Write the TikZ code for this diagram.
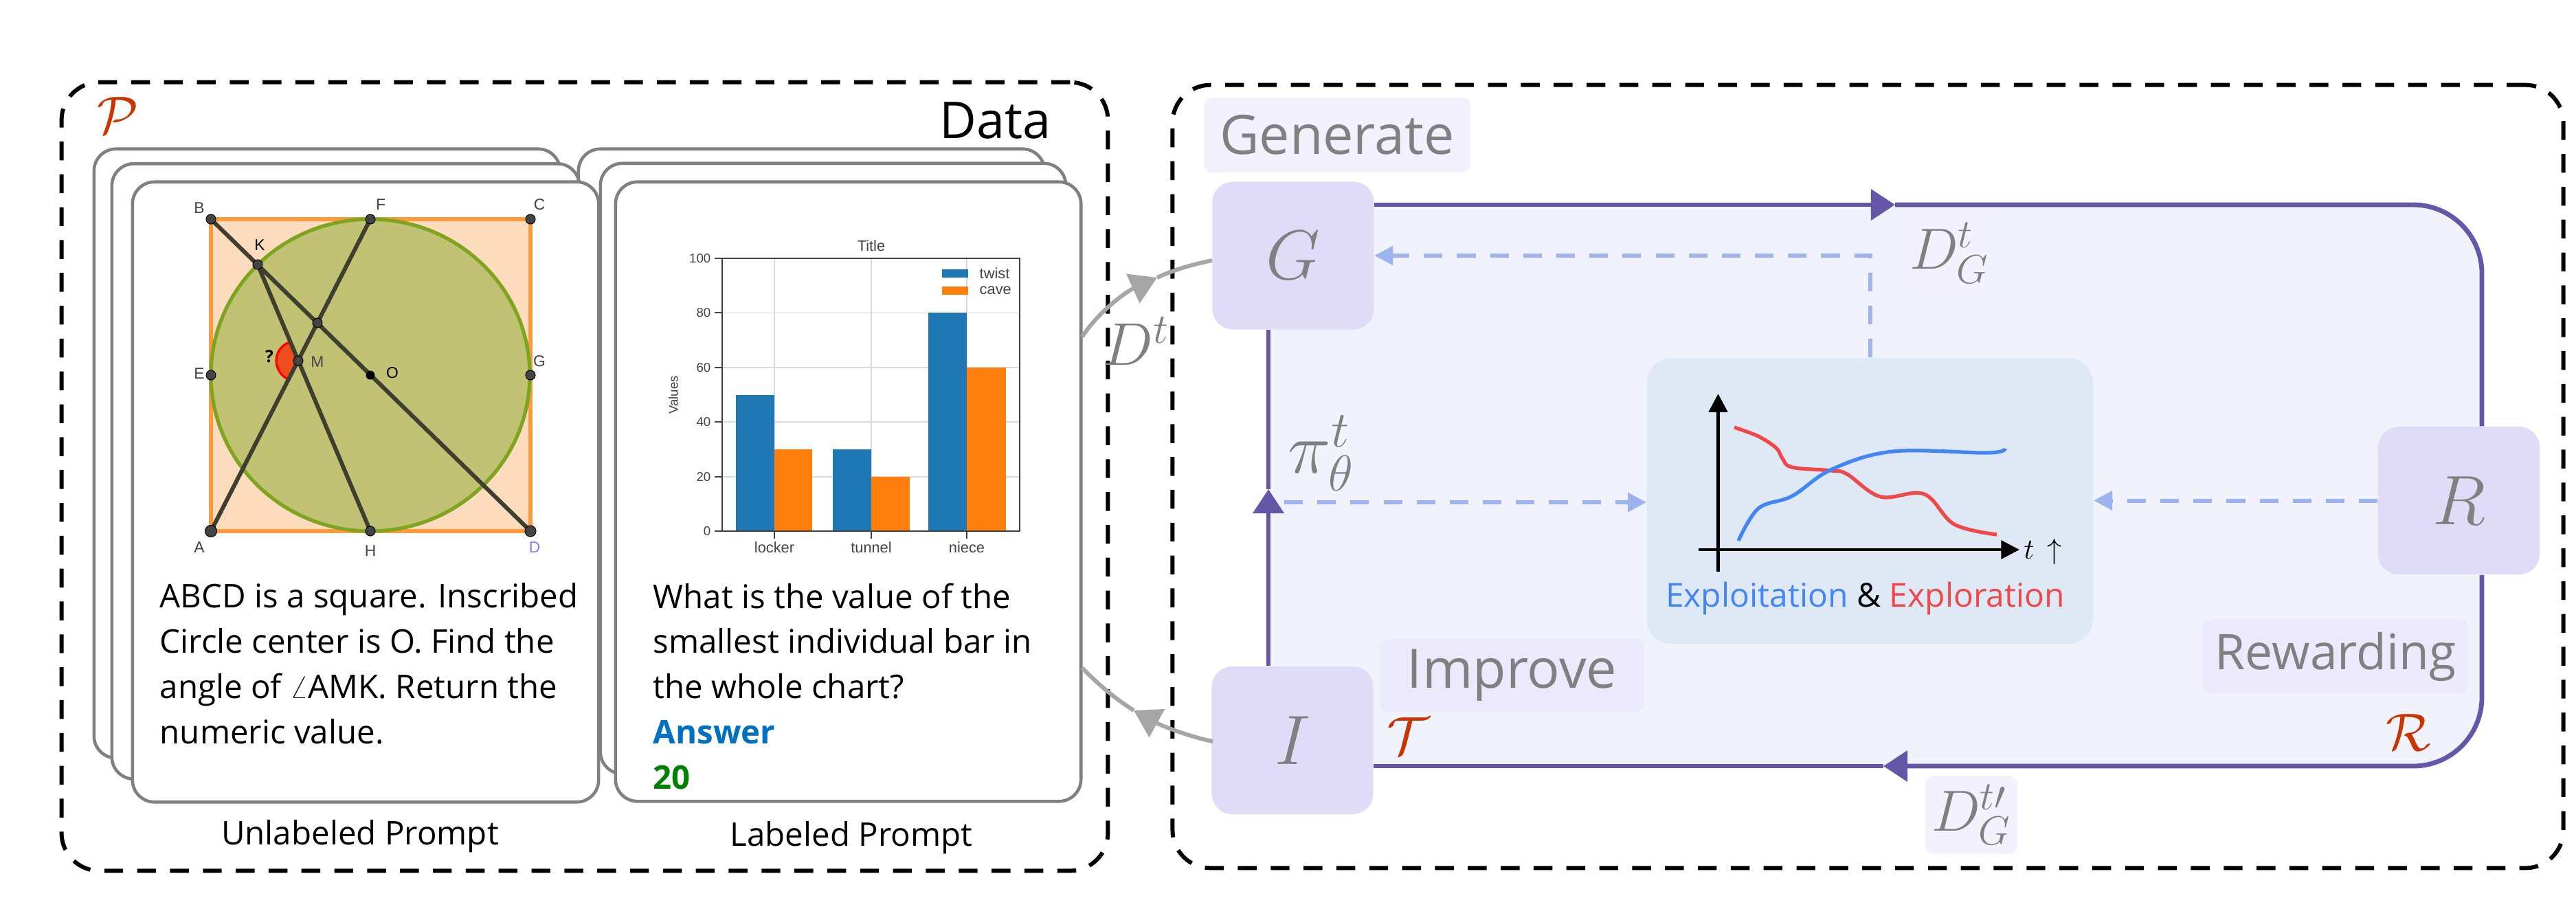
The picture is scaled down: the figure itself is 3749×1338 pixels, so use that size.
\RequirePackage{fix-cm}
\documentclass[tikz,border=0pt]{standalone}
\usepackage{fontspec}
\usepackage{xcolor}
\usetikzlibrary{arrows.meta,backgrounds}
\setmainfont{Open Sans}
\newfontfamily\chartfont{Liberation Sans}

\definecolor{cardline}{HTML}{808080}
\definecolor{labelgray}{HTML}{808080}
\definecolor{arrowgray}{HTML}{A6A6A6}
\definecolor{loopline}{HTML}{6556A8}
\definecolor{loopfill}{HTML}{F0F3FC}
\definecolor{agentfill}{HTML}{E0DCF8}
\definecolor{tagfill}{HTML}{F3F1FD}
\definecolor{tagfilldark}{HTML}{EBE9FB}
\definecolor{centerfill}{HTML}{DEE9F5}
\definecolor{dashblue}{HTML}{9DB2EF}
\definecolor{setred}{HTML}{C93400}
\definecolor{exploitblue}{HTML}{4285F4}
\definecolor{exploreed}{HTML}{F04848}
\definecolor{answerblue}{HTML}{0070C0}
\definecolor{answergreen}{HTML}{008000}
\definecolor{squarefill}{HTML}{FDDCBD}
\definecolor{squareline}{HTML}{FF9A3C}
\definecolor{circlefill}{HTML}{C1C274}
\definecolor{circleline}{HTML}{7FA520}
\definecolor{segline}{HTML}{3F3F2F}
\definecolor{pointfill}{HTML}{444444}
\definecolor{barblue}{HTML}{1F77B4}
\definecolor{barorange}{HTML}{FF7F0E}

\begin{document}
\begin{tikzpicture}[x=0.01cm,y=-0.01cm]
\tikzset{outerbox/.style={draw=black,line width=1.7pt,dash pattern=on 7.8pt off 5.8pt,rounded corners=0.55cm,inner sep=0}}
\tikzset{card/.style={draw=cardline,fill=white,line width=1.3pt,rounded corners=0.32cm,inner sep=0}}
\tikzset{agent/.style={fill=agentfill,rounded corners=0.3cm,inner sep=0,text=labelgray,minimum width=2.35cm,minimum height=2.15cm,font=\fontsize{29}{34}\selectfont}}
\tikzset{tag/.style={fill=tagfill,rounded corners=0.12cm,inner sep=0,text=labelgray,font=\fontsize{22.5}{26}\selectfont}}
\tikzset{mathlabel/.style={text=labelgray,inner sep=0,font=\fontsize{25}{30}\selectfont}}
\tikzset{setlabel/.style={text=setred,inner sep=0,font=\fontsize{22}{26}\selectfont}}
\tikzset{caption/.style={inner sep=0,font=\fontsize{13.5}{16}\selectfont}}
\tikzset{prompt/.style={anchor=north west,align=left,inner sep=0,font=\fontsize{13.5}{18.7}\selectfont}}
\tikzset{geolabel/.style={inner sep=0,text=pointfill,font=\chartfont\fontsize{6.5}{8}\selectfont}}
\tikzset{chartlabel/.style={inner sep=0,text=pointfill,font=\chartfont\fontsize{5.3}{6}\selectfont}}
\tikzset{chartname/.style={chartlabel,font=\chartfont\fontsize{6.2}{7}\selectfont}}
\tikzset{seg/.style={draw=segline,line width=1.7pt}}
\tikzset{dot/.style={fill=pointfill,draw=black,line width=0.3pt}}
\tikzset{loopedge/.style={draw=loopline,line width=1.95pt}}
\tikzset{loophead/.style={-{Triangle[length=10pt,width=12.6pt]}}}
\tikzset{dashedge/.style={draw=dashblue,line width=1.7pt,dash pattern=on 7.7pt off 6pt,-{Triangle[length=7.7pt,width=7.7pt]}}}
\tikzset{grayedge/.style={draw=arrowgray,line width=1.7pt}}
\tikzset{grayhead/.style={-{Triangle[length=11pt,width=13pt]}}}

\useasboundingbox (0,0) rectangle (3749,1338);

% outer boxes
\node[outerbox,minimum width=15.22cm,minimum height=11.47cm] (databox) at (851,693.5) {};
\node[outerbox,minimum width=20.23cm,minimum height=11.39cm] (rightbox) at (2718.5,693.5) {};
\node[anchor=east,inner sep=0,font=\fontsize{21}{26}\selectfont] (datalabel) at (1530,175) {Data};
\node[setlabel] (psetlabel) at (172,168) {$\mathcal{P}$};

% cards
\node[card,minimum width=6.78cm,minimum height=8.86cm] (labback) at (1181,660) {};
\node[card,minimum width=6.77cm,minimum height=8.88cm] (labmid) at (1212.5,682) {};
\node[card,minimum width=6.78cm,minimum height=8.86cm] (unlabback) at (476,660) {};
\node[card,minimum width=6.80cm,minimum height=8.95cm] (unlabmid) at (503,686) {};
\node[card,minimum width=6.78cm,minimum height=9.02cm] (unlabfront) at (532,716) {};
\node[card,minimum width=6.77cm,minimum height=9.01cm] (labfront) at (1234.5,715.5) {};

% geometry figure
\coordinate (ptA) at (307,773);
\coordinate (ptB) at (307,319);
\coordinate (ptC) at (772,319);
\coordinate (ptD) at (772,773);
\coordinate (ptE) at (307,546);
\coordinate (ptF) at (539,319);
\coordinate (ptG) at (772,546);
\coordinate (ptH) at (539,773);
\coordinate (ptK) at (375,385);
\coordinate (ptN) at (462,470);
\coordinate (ptM) at (434,525);
\coordinate (ptO) at (539,546);
\draw[fill=squarefill,draw=squareline,line width=1.5pt] (ptA) rectangle (ptC);
\draw[fill=circlefill,draw=circleline,line width=1.5pt] (ptO) ellipse (232 and 227);
\draw[fill=red!70!orange,fill opacity=0.75,draw=none] (421,498) .. controls (396,508) and (396,540) .. (419,552) -- (ptM) -- cycle;
\draw[red,line width=0.9pt] (421,498) .. controls (396,508) and (396,540) .. (419,552);
\draw[seg] (ptB) -- (ptD);
\draw[seg] (ptA) -- (ptF);
\draw[seg] (ptK) -- (ptH);
\foreach \p in {ptB,ptC,ptE,ptF,ptG,ptH,ptK,ptN,ptM} {
  \fill[dot] (\p) circle (7);
}
\fill[dot] (ptA) circle (8.5);
\fill[dot] (ptD) circle (8);
\fill[black] (ptO) circle (6.5);
\node[geolabel] (labB) at (290,303) {B};
\node[geolabel] (labF) at (554,298) {F};
\node[geolabel] (labC) at (785,298) {C};
\node[geolabel,text=black] (labK) at (378,357) {K};
\node[geolabel] (labE) at (290,544) {E};
\node[geolabel] (labG) at (785,526) {G};
\node[geolabel] (labM) at (462,527) {M};
\node[geolabel,text=black] (labO) at (571,543) {O};
\node[geolabel] (labA) at (290,797) {A};
\node[geolabel] (labH) at (539,802) {H};
\node[geolabel,text=blue!50] (labD) at (778,797) {D};
\node[inner sep=0,font=\bfseries\fontsize{7}{8}\selectfont,text=black] (labQ) at (392,519) {?};

% bar chart
\foreach \x in {1127,1268,1407} {
  \draw[black!15,line width=0.7pt] (\x,376) -- (\x,773);
}
\foreach \val in {20,40,60,80} {
  \draw[black!15,line width=0.5pt] (1051,{773-3.97*\val}) -- (1484,{773-3.97*\val});
}
\fill[barblue] (1070.5,773) rectangle (1127,{773-3.97*50});
\fill[barorange] (1127,773) rectangle (1182,{773-3.97*30});
\fill[barblue] (1212,773) rectangle (1268,{773-3.97*30});
\fill[barorange] (1268,773) rectangle (1323.5,{773-3.97*20});
\fill[barblue] (1351,773) rectangle (1407,{773-3.97*80});
\fill[barorange] (1407,773) rectangle (1464,{773-3.97*60});
\draw[black!75,line width=0.8pt] (1051,376) rectangle (1484,773);
\foreach \val in {0,20,...,100} {
  \draw[black!75,line width=0.6pt] (1040,{773-3.97*\val}) -- (1051,{773-3.97*\val});
  \node[chartlabel,anchor=east] (tick\val) at (1035,{773-3.97*\val}) {\val};
}
\foreach \x in {1127,1268,1407} {
  \draw[black!75,line width=0.6pt] (\x,773) -- (\x,784);
}
\node[chartname] (charttitle) at (1268,358) {Title};
\node[chartlabel,rotate=90] (chartvalues) at (980,575) {Values};
\node[chartname] (lablocker) at (1127,797) {locker};
\node[chartname] (labtunnel) at (1268,797) {tunnel};
\node[chartname] (labniece) at (1407,797) {niece};
\fill[barblue] (1371,392) rectangle (1409,404);
\fill[barorange] (1371,417) rectangle (1409,429);
\node[chartname,anchor=west] (labtwist) at (1425,398) {twist};
\node[chartname,anchor=west] (labcave) at (1425,423) {cave};

% card texts
\node[prompt] (unlabtext) at (232,848) {ABCD is a square. Inscribed\\Circle center is O. Find the\\angle of $\angle$AMK. Return the\\numeric value.};
\node[prompt] (labtext) at (950,848) {What is the value of the\\smallest individual bar in\\the whole chart?\\\textcolor{answerblue}{\textbf{Answer}}\\\textcolor{answergreen}{\textbf{20}}};
\node[caption] (unlabcap) at (524,1217) {Unlabeled Prompt};
\node[caption] (labcap) at (1239,1219) {Labeled Prompt};

% agents
\node[agent] (G) at (1882,372) {$G$};
\node[agent] (I) at (1881,1077.5) {$I$};
\node[agent] (R) at (3578.5,728.5) {$R$};
\node[fill=centerfill,rounded corners=0.36cm,minimum width=6.49cm,minimum height=4.16cm] (center) at (2721.5,729) {};

% loop panel
\coordinate (toptip) at (2758,298);
\coordinate (bottip) at (2741,1115);
\coordinate (lefttip) at (1846,712);
\coordinate (panelne) at (3612,298);
\coordinate (panelse) at (3612,1115);
\begin{scope}[on background layer]
\fill[loopfill,rounded corners=1cm] (1846,298) rectangle (panelse);
\draw[loopedge,loophead] (G.east |- toptip) -- (toptip);
\draw[loopedge,rounded corners=1cm] (toptip) -- (panelne) -- (R.north -| panelne);
\draw[loopedge,loophead,rounded corners=1cm] (R.south -| panelse) -- (panelse) -- (bottip);
\draw[loopedge] (bottip) -- (I.east |- bottip);
\draw[loopedge,loophead] (I.north -| lefttip) -- (lefttip);
\draw[loopedge] (lefttip) -- (G.south -| lefttip);
\end{scope}

% tags
\node[tag,minimum width=3.88cm,minimum height=1.09cm] (gentag) at (1946,196.5) {Generate};
\node[tag,fill=tagfilldark,minimum width=3.85cm,minimum height=1.06cm] (imptag) at (2200.5,983) {Improve};
\node[tag,fill=tagfilldark,minimum width=3.86cm,minimum height=1.07cm,font=\fontsize{20.3}{26}\selectfont] (rewtag) at (3399,955.5) {Rewarding};
\node[tag,minimum width=1.32cm,minimum height=1.15cm,font=\fontsize{24}{28}\selectfont] (dgtag) at (2837,368.5) {$D_G^t$};
\node[tag,minimum width=1.34cm,minimum height=1.14cm,font=\fontsize{24}{28}\selectfont] (dgptag) at (2869,1186) {$D_G^{t\prime}$};
\node[mathlabel] (dtlabel) at (1653,497) {$D^t$};
\node[mathlabel,font=\fontsize{30}{34}\selectfont] (pilabel) at (1923,660) {$\pi_\theta^t$};
\node[setlabel] (tsetlabel) at (2049,1071) {$\mathcal{T}$};
\node[setlabel] (rsetlabel) at (3505,1066) {$\mathcal{R}$};

% dashed arrows
\coordinate (pistart) at (1869,731);
\coordinate (dgcorner) at (2722,372);
\draw[dashedge] (pistart) -- (center.west |- pistart);
\draw[dashedge] (R.west) -- (center.east |- R.west);
\draw[dashedge] (center.north -| dgcorner) -- (dgcorner) -- (G.east |- dgcorner);

% gray arrows
\coordinate (dtcard) at (1575,490);
\coordinate (dtmid) at (1684,404);
\coordinate (dtgen) at (1764,379);
\coordinate (dicard) at (1575,972);
\coordinate (dimid) at (1650,1034);
\coordinate (diimp) at (1765,1079);
\draw[grayedge,grayhead] (dtcard) .. controls (1600,452) and (1640,424) .. (dtmid);
\draw[grayedge] (dtmid) .. controls (1710,392) and (1735,385) .. (dtgen);
\draw[grayedge,grayhead] (diimp) .. controls (1730,1072) and (1690,1056) .. (dimid);
\draw[grayedge] (dimid) .. controls (1625,1018) and (1600,998) .. (dicard);

% chart in the center
\draw[black,line width=1.5pt,-{Triangle[length=7.6pt,width=7.6pt]}] (2500.5,832) -- (2500.5,573);
\draw[black,line width=1.3pt,-{Triangle[length=7.6pt,width=7.6pt]}] (2472,800) -- (2939,800);
\draw[exploreed,line width=1.5pt] plot[smooth,tension=0.6] coordinates {(2524,622) (2559,635) (2585,652) (2594,667) (2608,680) (2666,685) (2688,690) (2737,723) (2800,719) (2844,763) (2906,778)};
\draw[exploitblue,line width=1.5pt] plot[smooth,tension=0.6] coordinates {(2530,787) (2559,740) (2608,722) (2666,683) (2755,657) (2893,659) (2918,653)};
\node[inner sep=0,font=\fontsize{12}{14}\selectfont] (tlabel) at (2973,803) {$t\,\uparrow$};
\node[anchor=base,inner sep=0,font=\fontsize{13.65}{18}\selectfont] (explabel) at (2714.5,883) {\textcolor{exploitblue}{Exploitation} \& \textcolor{exploreed}{Exploration}};
\end{tikzpicture}
\end{document}
